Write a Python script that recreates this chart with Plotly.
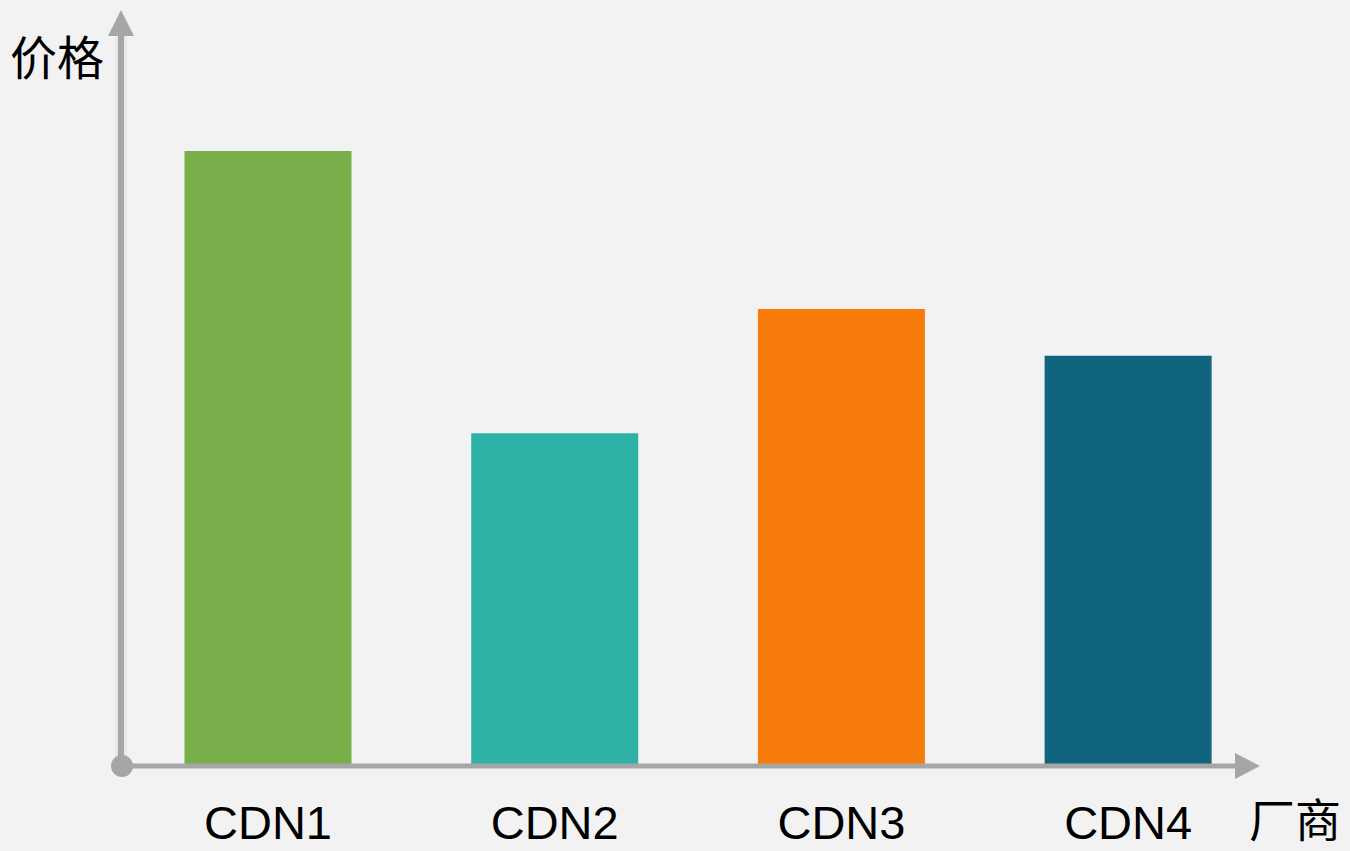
import plotly.graph_objects as go

# Data
vendors = ["CDN1", "CDN2", "CDN3", "CDN4"]
prices = [100, 54.1, 74.3, 66.7]
bar_colors = ["#78AF4A", "#2EB2A5", "#F77C0B", "#10647E"]
y_title = "价格"
x_title = "厂商"

W, H = 1350, 851
B = 85  # bottom margin
PH = H - B  # plot area height in px


def px(x):
    return x / W


def py(y):
    return (PH - y) / PH


axis_col = "#A6A6A6"

fig = go.Figure(
    go.Bar(
        x=vendors,
        y=prices,
        marker=dict(color=bar_colors, line=dict(width=0)),
        width=0.5825,
        hoverinfo="skip",
    )
)

shapes = []
# y-axis soft shadow
shapes.append(dict(type="line", xref="paper", yref="paper",
                   x0=px(121), x1=px(121), y0=py(766), y1=py(36),
                   line=dict(color="rgba(0,0,0,0.035)", width=12), layer="above"))
# y-axis line
shapes.append(dict(type="line", xref="paper", yref="paper",
                   x0=px(121), x1=px(121), y0=py(766), y1=py(34),
                   line=dict(color=axis_col, width=6), layer="above"))
# y arrow head
shapes.append(dict(type="path", xref="paper", yref="paper",
                   path=f"M {px(108)} {py(36)} L {px(121)} {py(10)} L {px(134)} {py(36)} Z",
                   fillcolor=axis_col, line=dict(width=0), layer="above"))
# x-axis line
shapes.append(dict(type="line", xref="paper", yref="paper",
                   x0=px(122), x1=px(1238), y0=py(766), y1=py(766),
                   line=dict(color=axis_col, width=5), layer="above"))
# x arrow head
shapes.append(dict(type="path", xref="paper", yref="paper",
                   path=f"M {px(1235)} {py(753)} L {px(1260)} {py(766)} L {px(1235)} {py(779)} Z",
                   fillcolor=axis_col, line=dict(width=0), layer="above"))
# origin dot
shapes.append(dict(type="circle", xref="paper", yref="paper",
                   x0=px(111), x1=px(133), y0=py(777), y1=py(755),
                   fillcolor=axis_col, line=dict(width=0), layer="above"))

annotations = [
    dict(text=y_title, xref="paper", yref="paper", x=px(57), y=py(54),
         xanchor="center", yanchor="middle", showarrow=False,
         font=dict(family="Noto Sans CJK SC", size=47, color="#000000")),
    dict(text=x_title, xref="paper", yref="paper", x=px(1295), y=py(817),
         xanchor="center", yanchor="middle", showarrow=False, borderpad=0,
         font=dict(family="Noto Sans CJK SC", size=46, color="#000000")),
]

fig.update_layout(
    width=W, height=H,
    margin=dict(l=0, r=0, t=0, b=B),
    paper_bgcolor="#F2F2F2",
    plot_bgcolor="#F2F2F2",
    showlegend=False,
    shapes=shapes,
    annotations=annotations,
    xaxis=dict(type="category", range=[-0.9348, 3.7739], showgrid=False,
               zeroline=False, showline=False, ticks="",
               tickfont=dict(family="Liberation Sans, Arial", size=47, color="#000000"),
               ticklabelstandoff=25, fixedrange=True),
    yaxis=dict(range=[0, 124.55], showgrid=False, zeroline=False,
               showline=False, showticklabels=False, ticks="", fixedrange=True),
)

fig.write_html(
    "out.html",
    config={"displayModeBar": False},
    post_script="document.body.style.margin='0';document.body.style.overflow='hidden';",
)
